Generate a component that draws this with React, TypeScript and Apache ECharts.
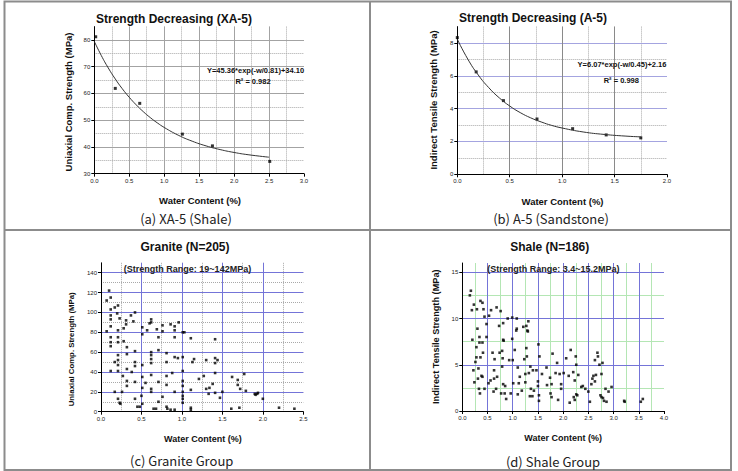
import React, { useEffect, useRef } from "react";
import * as echarts from "echarts";

// ---------- data ----------
const xa5Water = [0.02, 0.3, 0.65, 1.26, 1.69, 2.51];
const xa5Strength = [81.2, 61.9, 56.3, 44.8, 40.4, 34.6];
const xa5FitWater = [0, 0.1, 0.2, 0.3, 0.4, 0.5, 0.6, 0.7, 0.8, 0.9, 1.0, 1.2, 1.4, 1.6, 1.8, 2.0, 2.2, 2.5];
const xa5FitStrength = [79.46, 74.19, 69.53, 65.42, 61.78, 58.57, 55.73, 53.22, 50.99, 49.03, 47.3, 44.41, 42.16, 40.39, 39.02, 37.94, 37.1, 36.17];

const a5Water = [0.0, 0.18, 0.44, 0.76, 1.1, 1.42, 1.75];
const a5Strength = [8.33, 6.24, 4.49, 3.37, 2.78, 2.4, 2.22];
const a5FitWater = [0, 0.1, 0.2, 0.3, 0.4, 0.5, 0.6, 0.7, 0.8, 0.9, 1.0, 1.2, 1.4, 1.6, 1.75];
const a5FitStrength = [8.23, 7.02, 6.05, 5.28, 4.66, 4.16, 3.76, 3.44, 3.19, 2.98, 2.82, 2.58, 2.43, 2.33, 2.28];

const graniteWater = [
  0.07, 0.10, 0.12, 0.12, 0.12, 0.12, 0.12, 0.07, 0.12, 0.12,
  0.12, 0.12, 0.17, 0.21, 0.20, 0.23, 0.21, 0.21, 0.21, 0.21,
  0.21, 0.21, 0.21, 0.17, 0.17, 0.21, 0.23, 0.24, 0.26, 0.27,
  0.28, 0.28, 0.31, 0.31, 0.32, 0.32, 0.32, 0.32, 0.32, 0.37,
  0.40, 0.42, 0.38, 0.42, 0.42, 0.42, 0.42, 0.42, 0.45, 0.48,
  0.50, 0.51, 0.51, 0.51, 0.51, 0.51, 0.51, 0.55, 0.57, 0.60,
  0.62, 0.62, 0.62, 0.62, 0.62, 0.62, 0.62, 0.62, 0.62, 0.65,
  0.68, 0.69, 0.71, 0.71, 0.71, 0.71, 0.76, 0.76, 0.76, 0.81,
  0.81, 0.81, 0.81, 0.81, 0.82, 0.86, 0.86, 0.88, 0.91, 0.91,
  0.91, 0.91, 0.91, 0.91, 0.95, 0.96, 1.01, 1.01, 1.01, 1.01,
  1.01, 1.01, 1.01, 1.01, 1.01, 1.03, 1.11, 1.11, 1.11, 1.11,
  1.13, 1.15, 1.21, 1.27, 1.30, 1.30, 1.33, 1.34, 1.38, 1.41,
  1.41, 1.41, 1.41, 1.41, 1.44, 1.47, 1.50, 1.61, 1.62, 1.69,
  1.69, 1.71, 1.72, 1.77, 1.79, 1.90, 1.91, 1.93, 1.94, 2.00,
  2.20, 2.39,
];
const graniteStrength = [
  112, 122, 115, 103, 97, 93, 86, 81, 75, 70,
  66, 41, 105, 107, 99, 94, 82, 75, 70, 57,
  52, 47, 41, 50, 20, 13, 9, 8, 20, 36,
  71, 84, 92, 88, 65, 58, 43, 31, 26, 97,
  91, 100, 40, 61, 50, 46, 30, 13, 5, 5,
  16, 85, 78, 47, 35, 24, 8, 29, 82, 89,
  93, 90, 60, 57, 53, 49, 37, 23, 20, 3,
  3, 83, 75, 62, 30, 10, 81, 87, 15, 59,
  50, 36, 27, 5, 3, 88, 2, 39, 86, 82,
  75, 55, 20, 2, 54, 90, 80, 55, 41, 31,
  26, 20, 16, 13, 9, 80, 74, 22, 4, 2,
  50, 53, 33, 36, 52, 23, 18, 24, 28, 73,
  54, 49, 39, 19, 52, 14, 20, 3, 35, 32,
  27, 4, 23, 38, 21, 18, 17, 18, 19, 13,
  4, 3,
];

const shaleWater = [
  0.17, 0.15, 0.19, 0.20, 0.23, 0.22, 0.24, 0.26, 0.28, 0.28,
  0.29, 0.30, 0.31, 0.32, 0.33, 0.34, 0.34, 0.35, 0.36, 0.36,
  0.40, 0.40, 0.38, 0.40, 0.42, 0.41, 0.44, 0.44, 0.48, 0.48,
  0.53, 0.52, 0.57, 0.56, 0.60, 0.62, 0.63, 0.63, 0.64, 0.68,
  0.69, 0.67, 0.73, 0.74, 0.76, 0.77, 0.79, 0.80, 0.79, 0.81,
  0.81, 0.81, 0.82, 0.84, 0.85, 0.87, 0.90, 0.93, 0.96, 0.99,
  0.99, 1.00, 1.01, 1.04, 1.07, 1.08, 1.08, 1.10, 1.10, 1.14,
  1.12, 1.18, 1.21, 1.23, 1.25, 1.25, 1.27, 1.27, 1.28, 1.29,
  1.30, 1.31, 1.32, 1.34, 1.35, 1.36, 1.39, 1.40, 1.42, 1.47,
  1.50, 1.50, 1.51, 1.52, 1.52, 1.53, 1.58, 1.67, 1.68, 1.74,
  1.75, 1.77, 1.77, 1.79, 1.85, 1.88, 1.90, 1.93, 1.96, 1.96,
  2.01, 2.06, 2.11, 2.13, 2.15, 2.20, 2.21, 2.23, 2.23, 2.25,
  2.26, 2.26, 2.30, 2.28, 2.36, 2.39, 2.44, 2.50, 2.53, 2.56,
  2.58, 2.60, 2.63, 2.63, 2.65, 2.68, 2.69, 2.72, 2.74, 2.76,
  2.76, 2.78, 2.79, 2.81, 2.84, 2.86, 2.90, 2.96, 3.21, 3.22,
  3.54, 3.58,
];
const shaleStrength = [
  13.0, 12.5, 10.9, 7.7, 11.5, 4.4, 3.1, 5.3, 5.8, 6.9,
  11.0, 8.9, 3.5, 4.6, 2.4, 8.0, 7.4, 1.9, 11.9, 5.8,
  11.7, 7.4, 3.8, 3.7, 11.0, 6.3, 10.2, 2.4, 9.4, 8.0,
  10.3, 3.0, 10.9, 3.3, 6.3, 2.1, 4.4, 3.5, 5.6, 11.2,
  3.7, 2.4, 9.2, 6.3, 10.8, 1.9, 6.5, 5.7, 4.8, 9.5,
  7.7, 2.9, 7.6, 1.9, 2.7, 1.3, 10.0, 5.5, 1.9, 10.1,
  7.8, 5.5, 3.0, 6.6, 8.7, 10.0, 8.9, 4.7, 1.8, 3.7,
  3.0, 2.2, 9.1, 5.6, 4.0, 3.1, 9.2, 6.8, 5.9, 8.7,
  8.6, 9.7, 4.1, 1.6, 4.8, 2.4, 1.6, 4.4, 2.2, 4.4,
  3.2, 2.7, 7.2, 1.7, 1.1, 5.9, 4.0, 4.7, 2.8, 3.6,
  1.9, 2.9, 1.5, 6.2, 4.1, 5.2, 1.2, 4.0, 2.9, 2.4,
  4.1, 5.7, 3.8, 0.9, 6.6, 4.2, 1.5, 1.2, 3.3, 5.9,
  1.8, 5.0, 3.9, 1.7, 2.6, 2.7, 2.4, 2.1, 1.0, 2.9,
  3.5, 3.8, 5.5, 3.2, 3.9, 6.3, 5.9, 5.0, 1.7, 4.0,
  1.5, 5.2, 1.4, 1.1, 2.4, 1.0, 2.1, 2.6, 1.1, 1.0,
  1.0, 1.3,
];

// ---------- helpers ----------
const FONT = "'Liberation Sans', Arial, Helvetica, sans-serif";
const CAPTION_FONT = "'Noto Sans CJK KR', 'Noto Sans', sans-serif";

function pairs(xs: number[], ys: number[]) {
  const n = Math.min(xs.length, ys.length);
  const out: number[][] = [];
  for (let i = 0; i < n; i++) out.push([xs[i], ys[i]]);
  return out;
}

function isMultiple(v: number, base: number, step: number) {
  const r = (v - base) / step;
  return Math.abs(r - Math.round(r)) < 1e-6;
}

type AxisSpec = {
  min: number;
  max: number;
  major: number;
  minor: number;
  majorColor: string;
  majorType: string;
  minorColor: string;
  minorType: string;
  decimals: number;
};

function buildAxes(spec: AxisSpec, gridIndex: number, dim: "x" | "y") {
  const maxIsTick = isMultiple(spec.max, spec.min, spec.major);
  const major = {
    type: "value",
    gridIndex,
    min: spec.min,
    max: spec.max,
    interval: spec.major,
    z: 2,
    position: dim === "x" ? "bottom" : "left",
    axisLine: { show: true, onZero: false, lineStyle: { color: "#000", width: 1 } },
    axisTick: { show: true, length: 3, lineStyle: { color: "#000", width: 1 } },
    axisLabel: {
      show: true,
      fontSize: 6,
      color: "#222",
      fontFamily: FONT,
      margin: 4,
      showMaxLabel: maxIsTick,
      formatter: (v: number) => v.toFixed(spec.decimals),
    },
    splitLine: {
      show: true,
      showMinLine: false,
      showMaxLine: false,
      lineStyle: { color: spec.majorColor, width: 1, type: spec.majorType },
    },
  };
  const minor = {
    type: "value",
    gridIndex,
    min: spec.min,
    max: spec.max,
    interval: spec.minor,
    z: 1,
    position: dim === "x" ? "top" : "right",
    axisLine: { show: false, onZero: false },
    axisTick: { show: false },
    axisLabel: { show: false },
    splitLine: {
      show: true,
      showMinLine: false,
      showMaxLine: false,
      lineStyle: { color: spec.minorColor, width: 1, type: spec.minorType },
    },
  };
  return [minor, major];
}

const GREY_MAJOR = "#a3a3a3";
const GREY_MINOR = "#a8a8a8";
const BLUE = "#7474d8";
const LAVENDER = "#a4a4e0";
const GREEN = "#b4e6b4";

const panels = [
  {
    grid: { left: 94.3, top: 26.6, width: 209.7, height: 147.1 },
    x: { min: 0, max: 3, major: 0.5, minor: 0.25, majorColor: GREY_MAJOR, majorType: "solid", minorColor: GREY_MINOR, minorType: "dotted", decimals: 1 },
    y: { min: 30, max: 85, major: 10, minor: 5, majorColor: GREY_MAJOR, majorType: "solid", minorColor: GREY_MINOR, minorType: "dotted", decimals: 0 },
  },
  {
    grid: { left: 457.3, top: 26.6, width: 209.7, height: 147.7 },
    x: { min: 0, max: 2, major: 0.5, minor: 0.25, majorColor: "#8a8a8a", majorType: "solid", minorColor: GREY_MINOR, minorType: "dotted", decimals: 1 },
    y: { min: 0, max: 9, major: 2, minor: 1, majorColor: LAVENDER, majorType: "solid", minorColor: GREY_MINOR, minorType: "dotted", decimals: 0 },
  },
  {
    grid: { left: 101, top: 262.8, width: 202.3, height: 148.9 },
    x: { min: 0, max: 2.5, major: 0.5, minor: 0.25, majorColor: BLUE, majorType: "solid", minorColor: GREY_MINOR, minorType: "dotted", decimals: 1 },
    y: { min: 0, max: 150, major: 20, minor: 10, majorColor: BLUE, majorType: "solid", minorColor: GREY_MINOR, minorType: "dotted", decimals: 0 },
  },
  {
    grid: { left: 462.3, top: 263, width: 201.7, height: 148 },
    x: { min: 0, max: 4, major: 0.5, minor: 0.25, majorColor: BLUE, majorType: "solid", minorColor: GREEN, minorType: "solid", decimals: 1 },
    y: { min: 0, max: 16, major: 5, minor: 2.5, majorColor: BLUE, majorType: "solid", minorColor: GREEN, minorType: "solid", decimals: 0 },
  },
];

function text(
  str: string,
  x: number,
  y: number,
  font: string,
  opts: { rotation?: number; fill?: string; align?: string } = {}
) {
  return {
    type: "text",
    x,
    y,
    rotation: opts.rotation || 0,
    z: 10,
    style: {
      text: str,
      font,
      fill: opts.fill || "#111",
      align: opts.align || "center",
      verticalAlign: "middle",
      textAlign: opts.align || "center",
      textVerticalAlign: "middle",
    },
  };
}

function line(x1: number, y1: number, x2: number, y2: number) {
  return {
    type: "line",
    z: 10,
    shape: { x1, y1, x2, y2 },
    style: { stroke: "#8c8c8c", lineWidth: 2 },
  };
}

export default function App() {
  const ref = useRef<HTMLDivElement>(null);

  useEffect(() => {
    document.body.style.margin = "0";
    if (!ref.current) return;
    const chart = echarts.init(ref.current, undefined, { renderer: "svg" });

    const grids: any[] = [];
    const xAxes: any[] = [];
    const yAxes: any[] = [];
    panels.forEach((p, i) => {
      grids.push({ ...p.grid, containLabel: false, outerBoundsMode: "none" });
      const [xMinor, xMajor] = buildAxes(p.x as AxisSpec, i, "x");
      const [yMinor, yMajor] = buildAxes(p.y as AxisSpec, i, "y");
      xAxes.push(xMinor, xMajor); // minor index 2i, major index 2i+1
      yAxes.push(yMinor, yMajor);
    });

    const scatterStyle = { color: "#000" };
    const fitStyle = { color: "#333", width: 1 };

    const series: any[] = [
      {
        type: "line",
        xAxisIndex: 1,
        yAxisIndex: 1,
        data: pairs(xa5FitWater, xa5FitStrength),
        smooth: true,
        showSymbol: false,
        lineStyle: fitStyle,
        itemStyle: { color: "#333" },
      },
      {
        type: "scatter",
        xAxisIndex: 1,
        yAxisIndex: 1,
        data: pairs(xa5Water, xa5Strength),
        symbol: "rect",
        symbolSize: 3,
        itemStyle: scatterStyle,
      },
      {
        type: "line",
        xAxisIndex: 3,
        yAxisIndex: 3,
        data: pairs(a5FitWater, a5FitStrength),
        smooth: true,
        showSymbol: false,
        lineStyle: fitStyle,
        itemStyle: { color: "#333" },
      },
      {
        type: "scatter",
        xAxisIndex: 3,
        yAxisIndex: 3,
        data: pairs(a5Water, a5Strength),
        symbol: "rect",
        symbolSize: 3,
        itemStyle: scatterStyle,
      },
      {
        type: "scatter",
        xAxisIndex: 5,
        yAxisIndex: 5,
        data: pairs(graniteWater, graniteStrength),
        symbol: "rect",
        symbolSize: 2.6,
        itemStyle: scatterStyle,
      },
      {
        type: "scatter",
        xAxisIndex: 7,
        yAxisIndex: 7,
        data: pairs(shaleWater, shaleStrength),
        symbol: "rect",
        symbolSize: 2.6,
        itemStyle: scatterStyle,
      },
    ];

    const TITLE = `bold 12px ${FONT}`;
    const AXNAME = `bold 9.5px ${FONT}`;
    const EQ = `bold 7.5px ${FONT}`;
    const RANGE = `bold 9px ${FONT}`;
    const CAP = `13px ${CAPTION_FONT}`;
    const R = Math.PI / 2;

    const graphic: any[] = [
      // table frame
      {
        type: "rect",
        z: 10,
        shape: { x: 4.5, y: 1.5, width: 726.5, height: 468.5 },
        style: { fill: "none", stroke: "#8c8c8c", lineWidth: 2 },
      },
      line(370, 1.5, 370, 470),
      line(4.5, 230, 731, 230),

      // panel a
      text("Strength Decreasing (XA-5)", 174, 19, TITLE),
      text("Uniaxial Comp. Strength (MPa)", 68, 102, AXNAME, { rotation: R }),
      text("Water Content (%)", 200, 200, AXNAME),
      text("Y=45.36*exp(-w/0.81)+34.10", 255.5, 70.7, EQ),
      text("R² = 0.982", 253, 81, EQ),
      text("(a) XA-5 (Shale)", 186, 218.3, CAP, { fill: "#222" }),

      // panel b
      text("Strength Decreasing (A-5)", 533, 18.3, TITLE),
      text("Indirect Tensile Strength (MPa)", 433, 100, AXNAME, { rotation: R }),
      text("Water Content (%)", 562.5, 201.7, AXNAME),
      text("Y=6.07*exp(-w/0.45)+2.16", 622, 64.3, EQ),
      text("R² = 0.998", 621.3, 80, EQ),
      text("(b) A-5 (Sandstone)", 551, 218, CAP, { fill: "#222" }),

      // panel c
      text("Granite (N=205)", 185, 246.7, TITLE),
      text("(Strength Range: 19~142MPa)", 187.5, 269, RANGE, { fill: "#222" }),
      text("Uniaxial Comp. Strength (MPa)", 71.7, 349.3, `bold 7.8px ${FONT}`, { rotation: R }),
      text("Water Content (%)", 202.8, 439, `bold 9px ${FONT}`),
      text("(c) Granite Group", 181.7, 460.7, CAP, { fill: "#222" }),

      // panel d
      text("Shale (N=186)", 549.7, 246.7, TITLE),
      text("(Strength Range: 3.4~15.2MPa)", 553.3, 268.7, RANGE, { fill: "#222" }),
      text("Indirect Tensile Strength (MPa)", 435.7, 336.7, `bold 9.2px ${FONT}`, { rotation: R }),
      text("Water Content (%)", 563.2, 438.3, `bold 9px ${FONT}`),
      text("(d) Shale Group", 553, 461, CAP, { fill: "#222" }),
    ];

    chart.setOption({
      animation: false,
      backgroundColor: "#fff",
      grid: grids,
      xAxis: xAxes,
      yAxis: yAxes,
      series,
      graphic,
    });

    return () => chart.dispose();
  }, []);

  return <div ref={ref} style={{ width: 738, height: 471 }} />;
}
